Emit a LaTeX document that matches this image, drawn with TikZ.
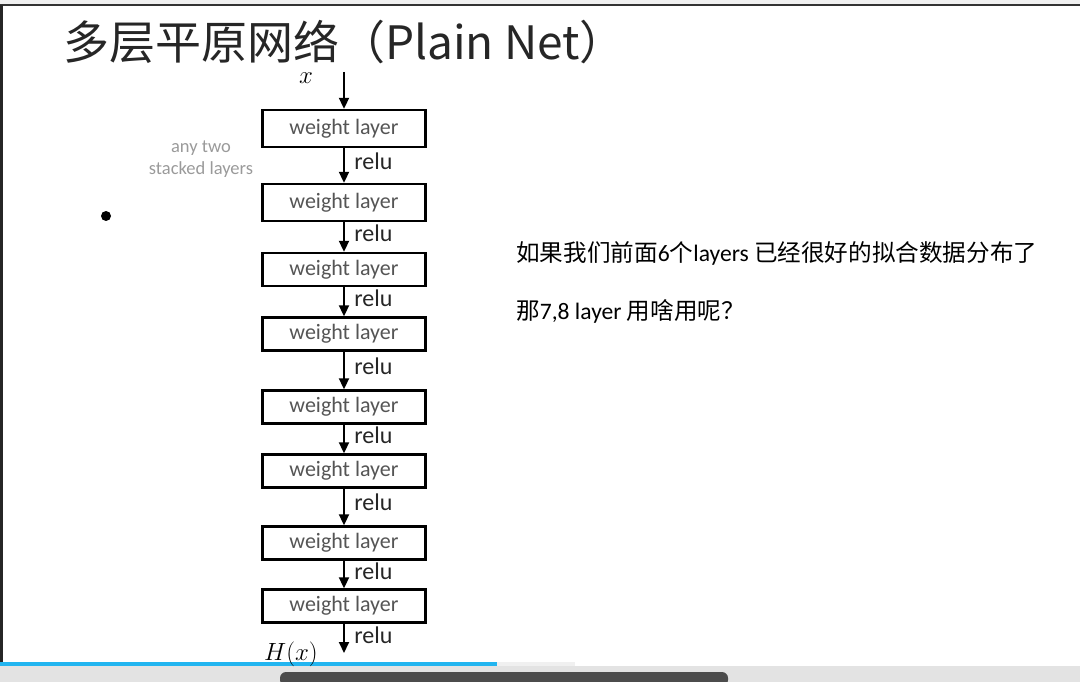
\documentclass[tikz,border=0pt]{standalone}
\usepackage{fontspec}
\setmainfont{Carlito}
\newfontfamily\cjk{Noto Sans CJK SC}
\usepackage{xcolor}
\usetikzlibrary{positioning, arrows.meta}

\definecolor{boxtext}{HTML}{555555}
\definecolor{notetext}{HTML}{9A9A9A}
\definecolor{barblue}{HTML}{22B5F0}

\begin{document}
\begin{tikzpicture}[
    x=1pt, y=-1pt,
    every node/.style={font=\fontsize{24}{28}\selectfont},
    layer/.style={rectangle, draw, line width=2.4pt, fill=white, text=boxtext,
        minimum width=163pt, minimum height=#1, inner sep=0pt,
        font=\fontsize{22}{26}\selectfont},
    layer/.default=33pt,
    act/.style={right=6pt, pos=0.38, text=black!85},
    arr/.style={-{Triangle[length=11pt, width=10pt]}, line width=2pt},
]
    \useasboundingbox (0,0) rectangle (1080,682);

    % --- screen frame ---
    \fill[gray!12] (0,0) rectangle (1080,4);
    \draw[line width=2pt, black!80] (0,5) -- (1080,5);
    \draw[line width=2.5pt, black!85] (1.5,5) -- (1.5,664);
    \fill[gray!22] (0,666) rectangle (1080,682);
    \fill[barblue] (0,662) rectangle (497,666);
    \fill[gray!12] (497,662) rectangle (575,666);
    \fill[black!70, rounded corners=6pt] (280,672) rectangle (728,686);

    % --- title ---
    \node[anchor=west, inner sep=0pt, text=black!85, font=\fontsize{46}{52}\selectfont\cjk] (title) at (63,42)
        {多层平原网络（Plain Net）};

    % --- stack of weight layers (absolute coordinates, top-to-bottom) ---
    \node[layer=37pt] (l1) at (344,128.5) {weight layer};
    \node[layer=37pt] (l2) at (344,202.5) {weight layer};
    \node[layer] (l3) at (344,269.5) {weight layer};
    \node[layer] (l4) at (344,334) {weight layer};
    \node[layer] (l5) at (344,407) {weight layer};
    \node[layer] (l6) at (344,471) {weight layer};
    \node[layer] (l7) at (344,543) {weight layer};
    \node[layer] (l8) at (344,606) {weight layer};

    % input and output
    \coordinate (xin) at (344,72);
    \coordinate (hout) at (344,653);
    \node[font=\fontsize{28}{30}\selectfont] (xlab) at (306,78) {$x$};
    \node[font=\fontsize{27}{30}\selectfont] (hlab) at (291,654) {$H(x)$};

    % side note and bullet
    \node[align=center, text=notetext, font=\fontsize{18.5}{22}\selectfont] (note) at (201,159)
        {any two\\stacked layers};
    \fill (106,216) circle (5pt);

    % question on the right
    \node[anchor=west, inner sep=0pt, font=\fontsize{23.6}{28}\selectfont] (q1) at (516,253)
        {{\cjk 如果我们前面}6{\cjk 个}layers {\cjk 已经很好的拟合数据分布了}};
    \node[anchor=west, inner sep=0pt, font=\fontsize{23.6}{28}\selectfont] (q2) at (516,311)
        {{\cjk 那}7,8 layer {\cjk 用啥用呢？}};

    % --- arrows ---
    \draw[arr] (xin) -- (l1.north);
    \draw[arr] (l1.south) -- node[act] {relu} (l2.north);
    \draw[arr] (l2.south) -- node[act] {relu} (l3.north);
    \draw[arr] (l3.south) -- node[act] {relu} (l4.north);
    \draw[arr] (l4.south) -- node[act] {relu} (l5.north);
    \draw[arr] (l5.south) -- node[act] {relu} (l6.north);
    \draw[arr] (l6.south) -- node[act] {relu} (l7.north);
    \draw[arr] (l7.south) -- node[act] {relu} (l8.north);
    \draw[arr] (l8.south) -- node[act] {relu} (hout);
\end{tikzpicture}
\end{document}
